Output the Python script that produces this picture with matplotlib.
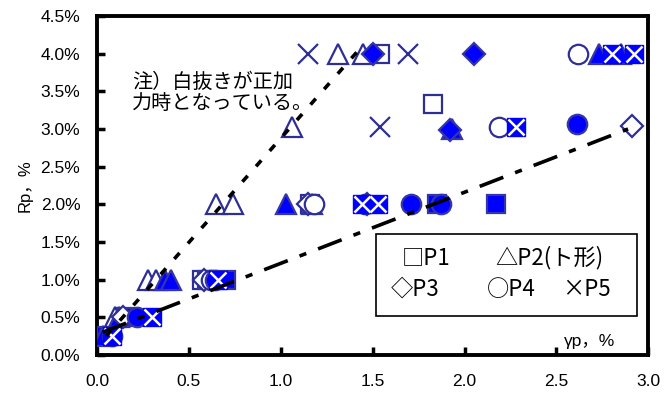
import matplotlib.pyplot as plt
from matplotlib.patches import Rectangle
from matplotlib.ticker import FuncFormatter

plt.rcParams['font.family'] = ['Liberation Sans', 'Noto Sans CJK JP', 'DejaVu Sans']

# specimen data: gamma_p (%) vs Rp (%), open = positive loading, filled = negative
p1_open_x = [1.54, 1.83, 1.16, 0.57]
p1_open_y = [4.0, 3.33, 2.0, 1.0]
p1_fill_x = [1.85, 2.17, 0.60, 0.70, 0.15, 0.05]
p1_fill_y = [2.0, 2.0, 1.0, 1.0, 0.5, 0.25]

p2_open_x = [1.31, 1.45, 1.06, 0.65, 0.74, 0.28, 0.32, 0.10]
p2_open_y = [4.0, 4.0, 3.02, 2.0, 2.0, 1.0, 1.0, 0.5]
p2_fill_x = [2.73, 2.85, 1.93, 1.03, 1.17, 0.37, 0.40, 0.12, 0.03]
p2_fill_y = [4.0, 4.0, 3.0, 2.0, 2.0, 1.0, 1.0, 0.5, 0.25]

p3_open_x = [2.91, 1.15, 1.47, 0.58, 0.14]
p3_open_y = [3.04, 2.0, 2.0, 1.0, 0.5]
p3_fill_x = [1.50, 2.05, 1.92]
p3_fill_y = [4.0, 4.0, 2.98]

p4_open_x = [2.62, 2.19, 1.18, 1.46, 0.62, 0.08]
p4_open_y = [4.0, 3.02, 2.0, 2.0, 1.0, 0.25]
p4_fill_x = [2.61, 1.71, 1.87, 0.64, 0.22]
p4_fill_y = [3.06, 2.0, 2.0, 1.0, 0.5]

p5_open_x = [1.15, 1.69, 1.54]
p5_open_y = [4.0, 4.0, 3.03]
p5_fill_x = [2.80, 2.92, 2.28, 1.44, 1.53, 0.66, 0.30, 0.08]
p5_fill_y = [4.0, 4.0, 3.02, 2.0, 2.0, 1.0, 0.5, 0.25]

# guide lines
pos_line_x = [0.05, 1.45]
pos_line_y = [0.25, 4.12]
neg_line_x = [0.03, 2.89]
neg_line_y = [0.30, 3.00]

navy = '#2E2E96'
blue = '#0000FF'
edge = '#3535A8'

fig = plt.figure(figsize=(6.69, 4.01), dpi=100)
ax = fig.add_axes([0.145, 0.115, 0.824, 0.845])

lw_m = 1.6

def open_pts(x, y, m, s):
    ax.plot(x, y, ls='none', marker=m, ms=s, mfc='white', mec=navy, mew=lw_m, zorder=3)

def fill_pts(x, y, m, s):
    ax.plot(x, y, ls='none', marker=m, ms=s, mfc=blue, mec=edge, mew=lw_m, zorder=3)

open_pts(p1_open_x, p1_open_y, 's', 13)
fill_pts(p1_fill_x, p1_fill_y, 's', 13)
open_pts(p2_open_x, p2_open_y, '^', 15)
fill_pts(p2_fill_x, p2_fill_y, '^', 15)
open_pts(p3_open_x, p3_open_y, 'D', 11)
fill_pts(p3_fill_x, p3_fill_y, 'D', 11)
open_pts(p4_open_x, p4_open_y, 'o', 14)
fill_pts(p4_fill_x, p4_fill_y, 'o', 14)
ax.plot(p5_open_x, p5_open_y, ls='none', marker='x', ms=14, mec=navy, mew=1.6, zorder=3)
ax.plot(p5_fill_x, p5_fill_y, ls='none', marker='s', ms=13, mfc=blue, mec=blue, zorder=3)
ax.plot(p5_fill_x, p5_fill_y, ls='none', marker='x', ms=12, mec='white', mew=1.8, zorder=3)

ax.plot(pos_line_x, pos_line_y, color='black', lw=2.6, dashes=(2.2, 3.5), zorder=4)
ax.plot(neg_line_x, neg_line_y, color='black', lw=2.6, dashes=(7, 3.5, 2, 3.5), zorder=4)

ax.set_xlim(0, 3.0)
ax.set_ylim(0, 4.5)
ax.set_xticks([0, 0.5, 1.0, 1.5, 2.0, 2.5, 3.0])
ax.set_yticks([i * 0.5 for i in range(10)])
ax.xaxis.set_major_formatter(FuncFormatter(lambda v, p: f'{v:.1f}'))
ax.yaxis.set_major_formatter(FuncFormatter(lambda v, p: f'{v:.1f}%'))
ax.tick_params(direction='in', length=6, width=2.5, labelsize=12.5, pad=12)
ax.tick_params(axis='x', pad=14)
for sp in ax.spines.values():
    sp.set_linewidth(2.8)

ax.set_ylabel('Rp，%', fontsize=12, labelpad=6)
ax.text(2.68, 0.18, 'γp，%', fontsize=12.5, ha='center', va='center')

ax.text(0.19, 3.48, '注）白抜きが正加\n力時となっている。', fontsize=14.5, ha='left', va='center',
        linespacing=1.1)

# legend panel drawn as a framed text block
ax.add_patch(Rectangle((1.52, 0.52), 1.42, 1.09, fc='white', ec='black', lw=1.2, zorder=5))
leg_font = dict(fontsize=16, va='center', ha='left', zorder=6,
                family=['Noto Sans CJK JP', 'DejaVu Sans'])
ax.text(1.66, 1.29, '□P1', **leg_font)
ax.text(2.17, 1.29, '△P2(ト形)', **leg_font)
ax.text(1.60, 0.87, '◇P3', **leg_font)
ax.text(2.12, 0.87, '○P4', **leg_font)
ax.text(2.53, 0.87, '×P5', **leg_font)

fig.savefig('out.png', dpi=100)
